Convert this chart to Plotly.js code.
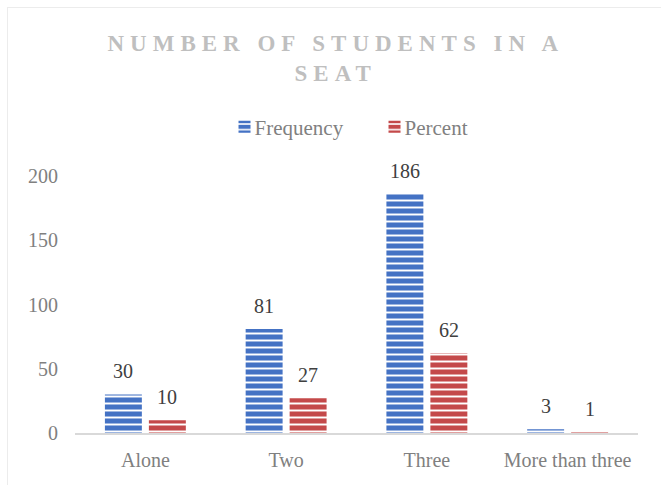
<!DOCTYPE html>
<html>
<head>
<meta charset="utf-8">
<script src="https://cdn.plot.ly/plotly-3.0.1.min.js"></script>
<style>
  html, body { margin: 0; padding: 0; background: #fff; }
  #wrap { position: relative; width: 661px; height: 485px; overflow: hidden; }
  #chart { position: absolute; left: 0; top: 0; width: 661px; height: 485px; }
  #frame { position: absolute; left: 7px; top: 7px; width: 700px; height: 600px;
           border-left: 1px solid #ececec; border-top: 1px solid #ececec; pointer-events: none; }
</style>
</head>
<body>
<div id="wrap">
  <div id="chart"></div>
  <div id="frame"></div>
</div>
<script>
const categories = ["Alone", "Two", "Three", "More than three"];
const frequency = [30, 81, 186, 3];
const percent = [10, 27, 62, 1];
const yTicks = [0, 50, 100, 150, 200];
const titleText = "<b>NUMBER OF STUDENTS IN A</b><br><b>SEAT</b>";

const serif = "Liberation Serif, Times New Roman, serif";
const blue = "#4472C4";
const red = "#C4494A";

function stripe(color) {
  return { shape: "-", fillmode: "replace", bgcolor: color, fgcolor: "#ffffff", size: 7, solidity: 0.28 };
}

const traces = [
  { type: "bar", name: "Frequency", x: categories, y: frequency,
    marker: { color: blue, pattern: stripe(blue), line: { width: 0 } }, hoverinfo: "none" },
  { type: "bar", name: "Percent", x: categories, y: percent,
    marker: { color: red, pattern: stripe(red), line: { width: 0 } }, hoverinfo: "none" }
];

const annotations = [];
[[frequency, -22], [percent, 22]].forEach(([vals, dx]) => {
  vals.forEach((v, i) => {
    annotations.push({
      x: categories[i], y: v, xref: "x", yref: "y", text: String(v), showarrow: false,
      xanchor: "center", yanchor: "bottom", xshift: dx, yshift: 10,
      font: { family: serif, size: 20, color: "#404040" }
    });
  });
});

const layout = {
  width: 661, height: 485,
  margin: { l: 75, r: 23, t: 176, b: 52, pad: 0 },
  paper_bgcolor: "rgba(0,0,0,0)", plot_bgcolor: "rgba(0,0,0,0)",
  font: { family: serif },
  title: { text: titleText, x: 0.508, xref: "container", xanchor: "center",
           y: 0.895, yref: "container", yanchor: "top",
           font: { family: serif, size: 23, color: "#BFBFBF", weight: 700 } },
  barmode: "group", bargap: 0.375, bargroupgap: 0.16,
  showlegend: true,
  legend: { orientation: "h", x: 0.532, xanchor: "center", y: 1.19, yanchor: "middle",
            entrywidth: 105,
            font: { family: serif, size: 21, color: "#808080" }, bgcolor: "rgba(0,0,0,0)" },
  xaxis: { type: "category", showline: true, linecolor: "#D9D9D9", linewidth: 2,
           showgrid: false, zeroline: false, ticks: "", ticklabelstandoff: 8,
           tickfont: { family: serif, size: 20, color: "#808080" }, fixedrange: true },
  yaxis: { range: [0, 200], tickvals: yTicks, ticktext: yTicks.map(String),
           showgrid: false, zeroline: false, showline: false, ticks: "",
           ticklabelstandoff: 16,
           tickfont: { family: serif, size: 20, color: "#808080" }, fixedrange: true },
  annotations: annotations
};

Plotly.newPlot("chart", traces, layout, { displayModeBar: false, staticPlot: true }).then(() => {
  document.querySelectorAll(".gtitle").forEach(el => { el.style.letterSpacing = "6px"; });
  document.querySelectorAll(".legend .legendtext").forEach(el => { el.setAttribute("x", "30"); });
});
</script>
</body>
</html>
